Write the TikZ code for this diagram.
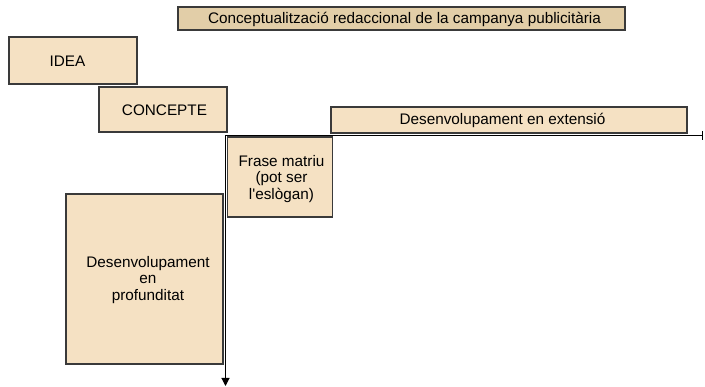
\documentclass[tikz,border=0pt]{standalone}
\usepackage{fontspec}
\setmainfont{Liberation Sans}
\usetikzlibrary{arrows.meta}
\definecolor{boxfill}{HTML}{F5E1C3}
\definecolor{titlefill}{HTML}{E2CEA8}
\definecolor{boxline}{HTML}{3A3A3A}
\begin{document}
\begin{tikzpicture}[x=1pt,y=-1pt,
  box/.style={draw=boxline,line width=1.1pt,fill=boxfill,rectangle,inner sep=0pt,
    font=\fontsize{15.3}{16.5}\selectfont,align=center},
  txt/.style={font=\fontsize{15.3}{16.5}\selectfont,inner sep=0pt,align=center}]
\path[use as bounding box,fill=white] (0,0) rectangle (705,387);
% boxes
\node[box,fill=titlefill,minimum width=447pt,minimum height=23pt] (title) at (401.5,18.5) {};
\node[txt] (titletxt) at (404.5,19) {Conceptualització redaccional de la campanya publicitària};
\node[box,minimum width=128pt,minimum height=47pt] (idea) at (73,60.5) {};
\node[txt] (ideatxt) at (67.5,61) {IDEA};
\node[box,minimum width=128pt,minimum height=45pt] (concepte) at (163,109.5) {};
\node[txt] (conctxt) at (164.5,110) {CONCEPTE};
\node[box,minimum width=356pt,minimum height=26pt] (ext) at (509,120) {};
\node[txt] (exttxt) at (502.5,120) {Desenvolupament en extensió};
\node[box,minimum width=105pt,minimum height=80pt] (frase) at (280,177) {};
\node[txt] (frasetxt) at (281.5,179) {Frase matriu\\(pot ser\\l\textquotesingle eslògan)};
\node[box,minimum width=157pt,minimum height=170pt] (prof) at (144.5,279) {};
\node[txt] (proftxt) at (148,280) {Desenvolupament\\en\\profunditat};
% axes
\coordinate (rend) at (703,135.5);
\coordinate (corner) at (225.5,135.5);
\coordinate (bend) at (225.5,386);
\draw[line width=1.1pt,{Bar[width=9pt,line width=1.1pt]}-{Triangle[width=8pt,length=8pt]}] (rend) -- (corner) -- (bend);
\end{tikzpicture}
\end{document}
